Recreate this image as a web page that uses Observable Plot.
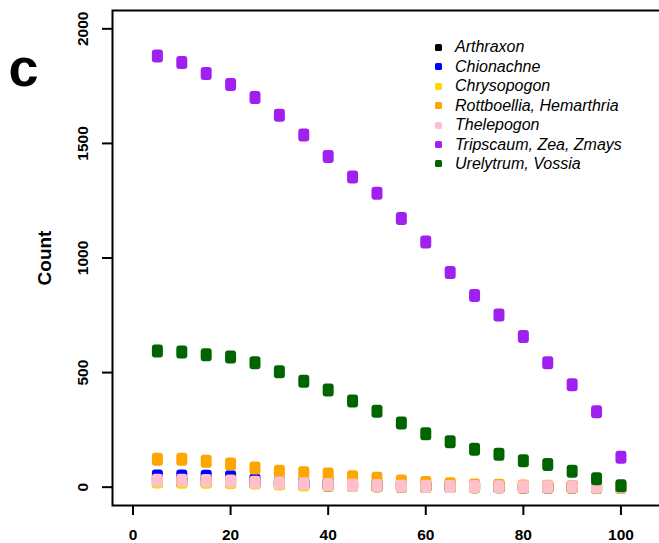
<!DOCTYPE html>
<html><head><meta charset="utf-8">
<script src="https://cdn.jsdelivr.net/npm/d3@7"></script>
<script src="https://cdn.jsdelivr.net/npm/@observablehq/plot@0.6"></script>
<style>
html,body{margin:0;padding:0;background:#fff;overflow:hidden;}
#wrap{position:relative;width:659px;height:543px;font-family:"Liberation Sans",Arial,Helvetica,sans-serif;}
#panel{position:absolute;left:8.5px;top:40px;font-size:54px;font-weight:bold;line-height:54px;}
#legend{position:absolute;left:435px;top:37.6px;}
.row{display:flex;align-items:center;height:19.45px;font-style:italic;font-size:16px;white-space:nowrap;}
.sw{width:7px;height:7px;border-radius:1.5px;margin-right:13px;flex:none;}
</style></head><body><div id="wrap"></div>
<script>
// x positions
const pct = [5,10,15,20,25,30,35,40,45,50,55,60,65,70,75,80,85,90,95,100];
// series values (counts)
const arthraxon   = [26,25,25,23,20,16,12,10,8,6,4,3,3,2,2,1,1,1,0,0];
const chionachne  = [49,49,48,46,30,20,17,16,12,9,6,5,4,3,3,2,2,2,1,1];
const chrysopogon = [23,22,22,20,18,14,10,9,7,6,4,3,3,2,2,1,1,1,0,0];
const rottboellia = [122,122,113,101,84,69,63,58,45,39,27,20,15,10,8,5,4,3,2,1];
const thelepogon  = [30,30,29,27,22,18,15,12,9,7,5,4,3,3,2,2,2,2,1,1];
const tripscaum   = [1881,1853,1805,1757,1700,1623,1537,1443,1354,1283,1172,1070,937,836,751,658,543,447,329,131];
const urelytrum   = [594,590,578,568,543,504,462,424,376,331,280,233,198,165,144,115,99,69,37,6];

const groups = ["Arthraxon","Chionachne","Chrysopogon","Rottboellia, Hemarthria","Thelepogon","Tripscaum, Zea, Zmays","Urelytrum, Vossia"];
const colors = ["#000000","#0000FF","#FFD700","#FFA500","#FFC0CB","#A020F0","#006400"];
const seriesList = [arthraxon, chionachne, chrysopogon, rottboellia, thelepogon, tripscaum, urelytrum];

const xTicks = [0,20,40,60,80,100];
const yTicks = [0,500,1000,1500,2000];

const data = seriesList.flatMap((vals, gi) => vals.map((v, i) => ({pct: pct[i], count: v, group: groups[gi]})));

const roundSq = {
  draw(ctx) {
    const w = 5.5, h = 6.5, r = 3;
    ctx.moveTo(-w + r, -h);
    ctx.lineTo(w - r, -h);
    ctx.arcTo(w, -h, w, -h + r, r);
    ctx.lineTo(w, h - r);
    ctx.arcTo(w, h, w - r, h, r);
    ctx.lineTo(-w + r, h);
    ctx.arcTo(-w, h, -w, h - r, r);
    ctx.lineTo(-w, -h + r);
    ctx.arcTo(-w, -h, -w + r, -h, r);
    ctx.closePath();
  }
};

const chart = Plot.plot({
  width: 659,
  height: 543,
  marginLeft: 112,
  marginRight: 0,
  marginTop: 10,
  marginBottom: 38,
  style: {fontFamily: "'Liberation Sans', Arial, Helvetica, sans-serif", fontWeight: "bold", background: "#fff", color: "#000"},
  x: {domain: [-4.2, 107.9], label: null},
  y: {domain: [-80, 2080], label: null},
  color: {domain: groups, range: colors},
  marks: [
    Plot.dot(data, {x: "pct", y: "count", fill: "group", symbol: roundSq, r: 5}),
    Plot.frame({stroke: "#000", strokeWidth: 2, insetRight: -6}),
    Plot.axisX({ticks: xTicks, tickSize: 10, tickPadding: 13, fontSize: 15.5, strokeWidth: 2, label: null}),
    Plot.axisY({ticks: yTicks, tickSize: 10, tickFormat: () => "", strokeWidth: 2, label: null}),
    Plot.text(yTicks, {y: d => d, text: d => String(d), frameAnchor: "left", dx: -29.5, rotate: -90, fontSize: 15.5, textAnchor: "middle", lineAnchor: "middle"}),
    Plot.text(["Count"], {frameAnchor: "left", dx: -68, rotate: -90, fontSize: 19, textAnchor: "middle", lineAnchor: "middle"})
  ]
});

const wrap = document.getElementById("wrap");
wrap.appendChild(chart);
chart.style.position = "absolute";
chart.style.left = "0px";
chart.style.top = "0px";

const panel = document.createElement("div");
panel.id = "panel";
panel.textContent = "c";
wrap.appendChild(panel);

const legend = document.createElement("div");
legend.id = "legend";
groups.forEach((g, i) => {
  const row = document.createElement("div");
  row.className = "row";
  const sw = document.createElement("span");
  sw.className = "sw";
  sw.style.background = colors[i];
  const lab = document.createElement("span");
  lab.textContent = g;
  row.appendChild(sw);
  row.appendChild(lab);
  legend.appendChild(row);
});
wrap.appendChild(legend);
</script>
</body></html>
